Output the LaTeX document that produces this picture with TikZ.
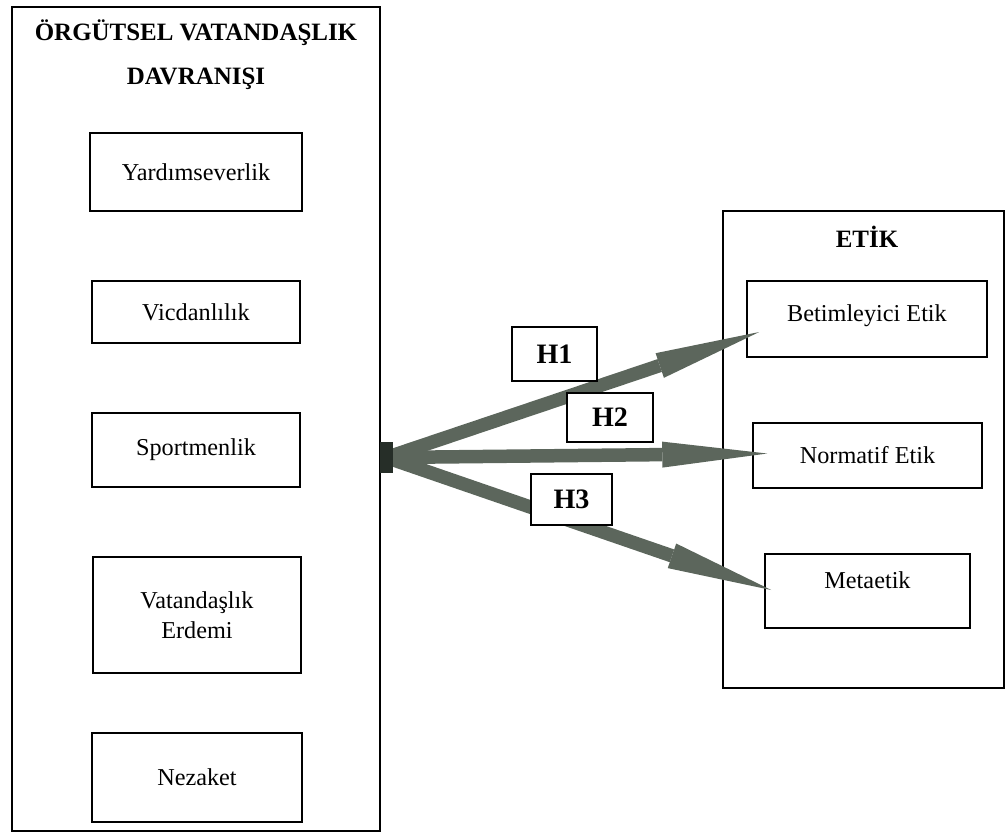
\documentclass[tikz,border=0pt]{standalone}
\usepackage{fontspec}
\setmainfont{Liberation Serif}
\usetikzlibrary{arrows.meta,calc}

\definecolor{okgri}{RGB}{92,102,92}
\definecolor{okkoyu}{RGB}{38,46,40}

\begin{document}
\begin{tikzpicture}[x=0.02cm, y=-0.02cm,
    kutu/.style={draw, line width=0.9pt, inner sep=0pt, align=center,
      font=\fontsize{13.8}{17}\selectfont},
    baslik/.style={align=center, font=\bfseries\fontsize{14.2}{25}\selectfont},
    hipotez/.style={draw, fill=white, line width=0.9pt, inner sep=0pt,
      font=\bfseries\fontsize{16}{18}\selectfont},
    ok/.style={draw=okgri, line width=0.27cm,
      -{Triangle[length=2.1cm, width=0.52cm, line width=0pt]}}]
  \useasboundingbox (0,0) rectangle (1006,839);

  \node[kutu, minimum width=7.36cm, minimum height=16.48cm] (ovd) at (196,419) {};
  \node[baslik] (ovdbaslik) at (196,55) {ÖRGÜTSEL VATANDAŞLIK\\DAVRANIŞI};
  \node[kutu, minimum width=4.24cm, minimum height=1.56cm] (yardim) at (196,172) {Yardımseverlik};
  \node[kutu, minimum width=4.16cm, minimum height=1.24cm] (vicdan) at (196,312) {Vicdanlılık};
  \node[kutu, minimum width=4.16cm, minimum height=1.48cm] (sportmen) at (196,450) {Sportmenlik};
  \node[kutu, minimum width=4.16cm, minimum height=2.32cm] (erdem) at (197,615) {Vatandaşlık\\Erdemi};
  \node[kutu, minimum width=4.2cm, minimum height=1.78cm] (nezaket) at (197,777.5) {Nezaket};

  \node[kutu, minimum width=5.62cm, minimum height=9.54cm] (etik) at (863.5,449.5) {};
  \node[baslik] (etikbaslik) at (867,237) {ETİK};
  \node[kutu, minimum width=4.8cm, minimum height=1.52cm, text depth=0.25cm] (betim) at (867,319) {Betimleyici Etik};
  \node[kutu, minimum width=4.58cm, minimum height=1.3cm] (normatif) at (867.5,455.5) {Normatif Etik};
  \node[kutu, minimum width=4.1cm, minimum height=1.48cm, text depth=0.45cm] (metaetik) at (867.5,591) {Metaetik};

  \coordinate (merkez) at (386.5,457.5);
  \draw[ok] (merkez) -- ($(betim.west)+(13,13)$);
  \draw[ok] (merkez) -- ($(normatif.west)+(15,-2)$);
  \draw[ok] (merkez) -- ($(metaetik.west)+(7,-1)$);
  \node[fill=okkoyu, inner sep=0pt, minimum width=0.26cm, minimum height=0.62cm] (kaynak) at (merkez) {};

  \node[hipotez, minimum width=1.7cm, minimum height=1.08cm] (h1) at (554.5,354) {H1};
  \node[hipotez, minimum width=1.72cm, minimum height=0.98cm] (h2) at (610,417.5) {H2};
  \node[hipotez, minimum width=1.62cm, minimum height=1.02cm] (h3) at (571.5,499.5) {H3};
\end{tikzpicture}
\end{document}
